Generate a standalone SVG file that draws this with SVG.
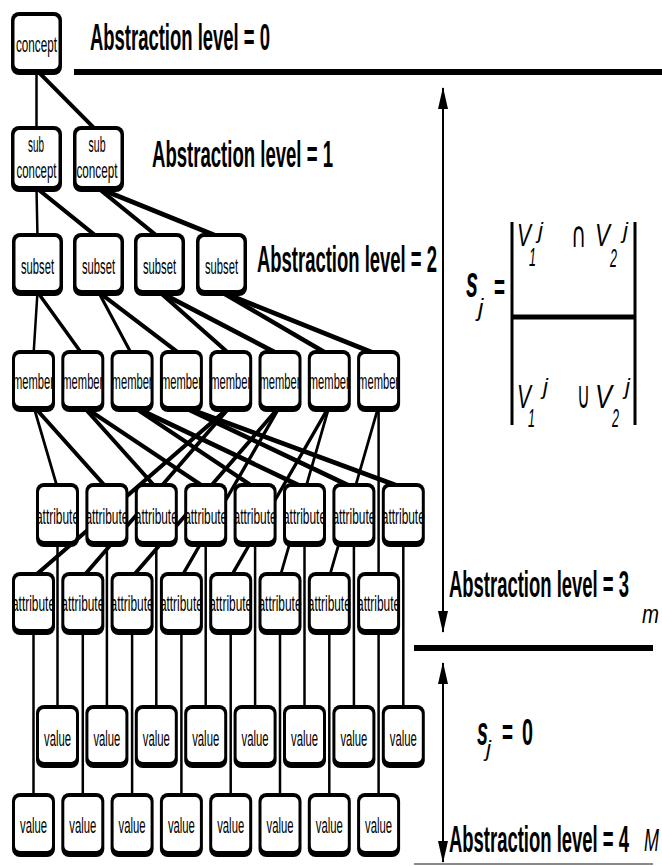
<svg xmlns="http://www.w3.org/2000/svg" width="662" height="866" viewBox="0 0 662 866">
<defs>
<style>
.bo{fill:#000}
.bi{fill:#fff}
.nt{font-family:"Liberation Sans",Arial,sans-serif;font-size:22px;text-anchor:middle;fill:#000}
.lv{font-family:"Liberation Sans",Arial,sans-serif;font-size:37px;font-weight:bold;fill:#000}
.it{font-family:"Liberation Sans",Arial,sans-serif;font-style:italic;fill:#000}
.mt{font-family:"Liberation Sans","DejaVu Sans",sans-serif;fill:#000}
.op{font-family:"DejaVu Sans",sans-serif;fill:#000}
.cn line{stroke:#000;stroke-width:5;stroke-linecap:round}
.rule{stroke:#000;stroke-width:6}
.arr{stroke:#000;stroke-width:2;fill:none}
</style>
<marker id="ah" viewBox="0 0 22 10" refX="21" refY="5" markerWidth="22" markerHeight="10" markerUnits="userSpaceOnUse" orient="auto-start-reverse">
<path d="M0,0 L22,5 L0,10 z" fill="#000"/>
</marker>
</defs>
<rect width="662" height="866" fill="#fff"/>

<!-- connectors (drawn in a horizontally squeezed frame: x doubled) -->
<g id="connectors" class="cn" transform="scale(0.5 1)">
<line x1="73" y1="70" x2="73" y2="132"/>
<line x1="73" y1="70" x2="196" y2="132"/>
<line x1="73" y1="188" x2="75" y2="238"/>
<line x1="73" y1="188" x2="197" y2="238"/>
<line x1="196" y1="188" x2="319" y2="238"/>
<line x1="196" y1="188" x2="443" y2="238"/>
<line x1="75" y1="292" x2="67" y2="355"/>
<line x1="75" y1="292" x2="165.6" y2="355"/>
<line x1="197" y1="292" x2="264.2" y2="355"/>
<line x1="197" y1="292" x2="362.8" y2="355"/>
<line x1="319" y1="292" x2="461.4" y2="355"/>
<line x1="319" y1="292" x2="560" y2="355"/>
<line x1="443" y1="292" x2="658.6" y2="355"/>
<line x1="443" y1="292" x2="757.2" y2="355"/>
<!-- member -> attribute row 1 -->
<line x1="67" y1="406" x2="115" y2="488"/>
<line x1="67" y1="406" x2="213.8" y2="488"/>
<line x1="165.6" y1="406" x2="312.6" y2="488"/>
<line x1="165.6" y1="406" x2="411.4" y2="488"/>
<line x1="264.2" y1="406" x2="510.2" y2="488"/>
<line x1="264.2" y1="406" x2="609" y2="488"/>
<line x1="362.8" y1="406" x2="707.8" y2="488"/>
<line x1="362.8" y1="406" x2="806.6" y2="488"/>
<!-- member -> attribute row 2 -->
<line x1="461.4" y1="406" x2="67" y2="577"/>
<line x1="461.4" y1="406" x2="165.6" y2="577"/>
<line x1="560" y1="406" x2="264.2" y2="577"/>
<line x1="560" y1="406" x2="362.8" y2="577"/>
<line x1="658.6" y1="406" x2="461.4" y2="577"/>
<line x1="658.6" y1="406" x2="560" y2="577"/>
<line x1="757.2" y1="406" x2="658.6" y2="577"/>
<line x1="757.2" y1="406" x2="757.2" y2="577"/>
<!-- attribute row 1 -> value row 1 -->
<line x1="115" y1="542" x2="115" y2="710"/>
<line x1="213.8" y1="542" x2="213.8" y2="710"/>
<line x1="312.6" y1="542" x2="312.6" y2="710"/>
<line x1="411.4" y1="542" x2="411.4" y2="710"/>
<line x1="510.2" y1="542" x2="510.2" y2="710"/>
<line x1="609" y1="542" x2="609" y2="710"/>
<line x1="707.8" y1="542" x2="707.8" y2="710"/>
<line x1="806.6" y1="542" x2="806.6" y2="710"/>
<!-- attribute row 2 -> value row 2 -->
<line x1="67" y1="630" x2="67" y2="798"/>
<line x1="165.6" y1="630" x2="165.6" y2="798"/>
<line x1="264.2" y1="630" x2="264.2" y2="798"/>
<line x1="362.8" y1="630" x2="362.8" y2="798"/>
<line x1="461.4" y1="630" x2="461.4" y2="798"/>
<line x1="560" y1="630" x2="560" y2="798"/>
<line x1="658.6" y1="630" x2="658.6" y2="798"/>
<line x1="757.2" y1="630" x2="757.2" y2="798"/>
</g>

<!-- nodes -->
<g id="concept"><rect class="bo" x="11" y="12" width="51" height="63" rx="8"/><rect class="bi" x="14.5" y="16" width="44" height="53" rx="5"/><text class="nt" x="36.5" y="52" textLength="41" lengthAdjust="spacingAndGlyphs">concept</text></g>

<g id="subconcept1"><rect class="bo" x="11" y="126" width="51" height="66" rx="8"/><rect class="bi" x="14.5" y="130" width="44" height="56" rx="5"/><text class="nt" x="36" y="152" textLength="16" lengthAdjust="spacingAndGlyphs">sub</text><text class="nt" x="36.5" y="178" textLength="40" lengthAdjust="spacingAndGlyphs">concept</text></g>
<g id="subconcept2"><rect class="bo" x="73" y="126" width="51" height="66" rx="8"/><rect class="bi" x="76.5" y="130" width="44" height="56" rx="5"/><text class="nt" x="97" y="152" textLength="17" lengthAdjust="spacingAndGlyphs">sub</text><text class="nt" x="97" y="178" textLength="41" lengthAdjust="spacingAndGlyphs">concept</text></g>

<g id="subset1"><rect class="bo" x="12" y="233" width="51" height="63" rx="8"/><rect class="bi" x="15.5" y="237" width="44" height="53" rx="5"/><text class="nt" x="37.5" y="274" textLength="33" lengthAdjust="spacingAndGlyphs">subset</text></g>
<g id="subset2"><rect class="bo" x="73" y="233" width="51" height="63" rx="8"/><rect class="bi" x="76.5" y="237" width="44" height="53" rx="5"/><text class="nt" x="98.5" y="274" textLength="33" lengthAdjust="spacingAndGlyphs">subset</text></g>
<g id="subset3"><rect class="bo" x="134" y="233" width="51" height="63" rx="8"/><rect class="bi" x="137.5" y="237" width="44" height="53" rx="5"/><text class="nt" x="159.5" y="274" textLength="33" lengthAdjust="spacingAndGlyphs">subset</text></g>
<g id="subset4"><rect class="bo" x="196" y="233" width="51" height="63" rx="8"/><rect class="bi" x="199.5" y="237" width="44" height="53" rx="5"/><text class="nt" x="221.5" y="274" textLength="33" lengthAdjust="spacingAndGlyphs">subset</text></g>

<g id="member1"><rect class="bo" x="12" y="350" width="43" height="62" rx="8"/><rect class="bi" x="15" y="354" width="37" height="52" rx="5"/><text class="nt" x="33.5" y="389" textLength="41" lengthAdjust="spacingAndGlyphs">member</text></g>
<g id="member2"><rect class="bo" x="61.3" y="350" width="43" height="62" rx="8"/><rect class="bi" x="64.3" y="354" width="37" height="52" rx="5"/><text class="nt" x="82.8" y="389" textLength="41" lengthAdjust="spacingAndGlyphs">member</text></g>
<g id="member3"><rect class="bo" x="110.6" y="350" width="43" height="62" rx="8"/><rect class="bi" x="113.6" y="354" width="37" height="52" rx="5"/><text class="nt" x="132.1" y="389" textLength="41" lengthAdjust="spacingAndGlyphs">member</text></g>
<g id="member4"><rect class="bo" x="159.9" y="350" width="43" height="62" rx="8"/><rect class="bi" x="162.9" y="354" width="37" height="52" rx="5"/><text class="nt" x="181.4" y="389" textLength="41" lengthAdjust="spacingAndGlyphs">member</text></g>
<g id="member5"><rect class="bo" x="209.2" y="350" width="43" height="62" rx="8"/><rect class="bi" x="212.2" y="354" width="37" height="52" rx="5"/><text class="nt" x="230.7" y="389" textLength="41" lengthAdjust="spacingAndGlyphs">member</text></g>
<g id="member6"><rect class="bo" x="258.5" y="350" width="43" height="62" rx="8"/><rect class="bi" x="261.5" y="354" width="37" height="52" rx="5"/><text class="nt" x="280" y="389" textLength="41" lengthAdjust="spacingAndGlyphs">member</text></g>
<g id="member7"><rect class="bo" x="307.8" y="350" width="43" height="62" rx="8"/><rect class="bi" x="310.8" y="354" width="37" height="52" rx="5"/><text class="nt" x="329.3" y="389" textLength="41" lengthAdjust="spacingAndGlyphs">member</text></g>
<g id="member8"><rect class="bo" x="357.1" y="350" width="43" height="62" rx="8"/><rect class="bi" x="360.1" y="354" width="37" height="52" rx="5"/><text class="nt" x="378.6" y="389" textLength="41" lengthAdjust="spacingAndGlyphs">member</text></g>

<g id="attr1-1"><rect class="bo" x="36" y="483" width="43" height="64" rx="8"/><rect class="bi" x="39" y="487" width="37" height="54" rx="5"/><text class="nt" x="57.5" y="524" textLength="43" lengthAdjust="spacingAndGlyphs">attribute</text></g>
<g id="attr1-2"><rect class="bo" x="85.4" y="483" width="43" height="64" rx="8"/><rect class="bi" x="88.4" y="487" width="37" height="54" rx="5"/><text class="nt" x="106.9" y="524" textLength="43" lengthAdjust="spacingAndGlyphs">attribute</text></g>
<g id="attr1-3"><rect class="bo" x="134.8" y="483" width="43" height="64" rx="8"/><rect class="bi" x="137.8" y="487" width="37" height="54" rx="5"/><text class="nt" x="156.3" y="524" textLength="43" lengthAdjust="spacingAndGlyphs">attribute</text></g>
<g id="attr1-4"><rect class="bo" x="184.2" y="483" width="43" height="64" rx="8"/><rect class="bi" x="187.2" y="487" width="37" height="54" rx="5"/><text class="nt" x="205.7" y="524" textLength="43" lengthAdjust="spacingAndGlyphs">attribute</text></g>
<g id="attr1-5"><rect class="bo" x="233.6" y="483" width="43" height="64" rx="8"/><rect class="bi" x="236.6" y="487" width="37" height="54" rx="5"/><text class="nt" x="255.1" y="524" textLength="43" lengthAdjust="spacingAndGlyphs">attribute</text></g>
<g id="attr1-6"><rect class="bo" x="283" y="483" width="43" height="64" rx="8"/><rect class="bi" x="286" y="487" width="37" height="54" rx="5"/><text class="nt" x="304.5" y="524" textLength="43" lengthAdjust="spacingAndGlyphs">attribute</text></g>
<g id="attr1-7"><rect class="bo" x="332.4" y="483" width="43" height="64" rx="8"/><rect class="bi" x="335.4" y="487" width="37" height="54" rx="5"/><text class="nt" x="353.9" y="524" textLength="43" lengthAdjust="spacingAndGlyphs">attribute</text></g>
<g id="attr1-8"><rect class="bo" x="381.8" y="483" width="43" height="64" rx="8"/><rect class="bi" x="384.8" y="487" width="37" height="54" rx="5"/><text class="nt" x="403.3" y="524" textLength="43" lengthAdjust="spacingAndGlyphs">attribute</text></g>

<g id="attr2-1"><rect class="bo" x="12" y="572" width="43" height="63" rx="8"/><rect class="bi" x="15" y="576" width="37" height="53" rx="5"/><text class="nt" x="33.5" y="611" textLength="43" lengthAdjust="spacingAndGlyphs">attribute</text></g>
<g id="attr2-2"><rect class="bo" x="61.3" y="572" width="43" height="63" rx="8"/><rect class="bi" x="64.3" y="576" width="37" height="53" rx="5"/><text class="nt" x="82.8" y="611" textLength="43" lengthAdjust="spacingAndGlyphs">attribute</text></g>
<g id="attr2-3"><rect class="bo" x="110.6" y="572" width="43" height="63" rx="8"/><rect class="bi" x="113.6" y="576" width="37" height="53" rx="5"/><text class="nt" x="132.1" y="611" textLength="43" lengthAdjust="spacingAndGlyphs">attribute</text></g>
<g id="attr2-4"><rect class="bo" x="159.9" y="572" width="43" height="63" rx="8"/><rect class="bi" x="162.9" y="576" width="37" height="53" rx="5"/><text class="nt" x="181.4" y="611" textLength="43" lengthAdjust="spacingAndGlyphs">attribute</text></g>
<g id="attr2-5"><rect class="bo" x="209.2" y="572" width="43" height="63" rx="8"/><rect class="bi" x="212.2" y="576" width="37" height="53" rx="5"/><text class="nt" x="230.7" y="611" textLength="43" lengthAdjust="spacingAndGlyphs">attribute</text></g>
<g id="attr2-6"><rect class="bo" x="258.5" y="572" width="43" height="63" rx="8"/><rect class="bi" x="261.5" y="576" width="37" height="53" rx="5"/><text class="nt" x="280" y="611" textLength="43" lengthAdjust="spacingAndGlyphs">attribute</text></g>
<g id="attr2-7"><rect class="bo" x="307.8" y="572" width="43" height="63" rx="8"/><rect class="bi" x="310.8" y="576" width="37" height="53" rx="5"/><text class="nt" x="329.3" y="611" textLength="43" lengthAdjust="spacingAndGlyphs">attribute</text></g>
<g id="attr2-8"><rect class="bo" x="357.1" y="572" width="43" height="63" rx="8"/><rect class="bi" x="360.1" y="576" width="37" height="53" rx="5"/><text class="nt" x="378.6" y="611" textLength="43" lengthAdjust="spacingAndGlyphs">attribute</text></g>

<g id="value1-1"><rect class="bo" x="36" y="705" width="43" height="63" rx="8"/><rect class="bi" x="39" y="709" width="37" height="53" rx="5"/><text class="nt" x="57.5" y="746" textLength="27" lengthAdjust="spacingAndGlyphs">value</text></g>
<g id="value1-2"><rect class="bo" x="85.4" y="705" width="43" height="63" rx="8"/><rect class="bi" x="88.4" y="709" width="37" height="53" rx="5"/><text class="nt" x="106.9" y="746" textLength="27" lengthAdjust="spacingAndGlyphs">value</text></g>
<g id="value1-3"><rect class="bo" x="134.8" y="705" width="43" height="63" rx="8"/><rect class="bi" x="137.8" y="709" width="37" height="53" rx="5"/><text class="nt" x="156.3" y="746" textLength="27" lengthAdjust="spacingAndGlyphs">value</text></g>
<g id="value1-4"><rect class="bo" x="184.2" y="705" width="43" height="63" rx="8"/><rect class="bi" x="187.2" y="709" width="37" height="53" rx="5"/><text class="nt" x="205.7" y="746" textLength="27" lengthAdjust="spacingAndGlyphs">value</text></g>
<g id="value1-5"><rect class="bo" x="233.6" y="705" width="43" height="63" rx="8"/><rect class="bi" x="236.6" y="709" width="37" height="53" rx="5"/><text class="nt" x="255.1" y="746" textLength="27" lengthAdjust="spacingAndGlyphs">value</text></g>
<g id="value1-6"><rect class="bo" x="283" y="705" width="43" height="63" rx="8"/><rect class="bi" x="286" y="709" width="37" height="53" rx="5"/><text class="nt" x="304.5" y="746" textLength="27" lengthAdjust="spacingAndGlyphs">value</text></g>
<g id="value1-7"><rect class="bo" x="332.4" y="705" width="43" height="63" rx="8"/><rect class="bi" x="335.4" y="709" width="37" height="53" rx="5"/><text class="nt" x="353.9" y="746" textLength="27" lengthAdjust="spacingAndGlyphs">value</text></g>
<g id="value1-8"><rect class="bo" x="381.8" y="705" width="43" height="63" rx="8"/><rect class="bi" x="384.8" y="709" width="37" height="53" rx="5"/><text class="nt" x="403.3" y="746" textLength="27" lengthAdjust="spacingAndGlyphs">value</text></g>

<g id="value2-1"><rect class="bo" x="12" y="793" width="43" height="64" rx="8"/><rect class="bi" x="15" y="797" width="37" height="54" rx="5"/><text class="nt" x="33.5" y="833" textLength="27" lengthAdjust="spacingAndGlyphs">value</text></g>
<g id="value2-2"><rect class="bo" x="61.3" y="793" width="43" height="64" rx="8"/><rect class="bi" x="64.3" y="797" width="37" height="54" rx="5"/><text class="nt" x="82.8" y="833" textLength="27" lengthAdjust="spacingAndGlyphs">value</text></g>
<g id="value2-3"><rect class="bo" x="110.6" y="793" width="43" height="64" rx="8"/><rect class="bi" x="113.6" y="797" width="37" height="54" rx="5"/><text class="nt" x="132.1" y="833" textLength="27" lengthAdjust="spacingAndGlyphs">value</text></g>
<g id="value2-4"><rect class="bo" x="159.9" y="793" width="43" height="64" rx="8"/><rect class="bi" x="162.9" y="797" width="37" height="54" rx="5"/><text class="nt" x="181.4" y="833" textLength="27" lengthAdjust="spacingAndGlyphs">value</text></g>
<g id="value2-5"><rect class="bo" x="209.2" y="793" width="43" height="64" rx="8"/><rect class="bi" x="212.2" y="797" width="37" height="54" rx="5"/><text class="nt" x="230.7" y="833" textLength="27" lengthAdjust="spacingAndGlyphs">value</text></g>
<g id="value2-6"><rect class="bo" x="258.5" y="793" width="43" height="64" rx="8"/><rect class="bi" x="261.5" y="797" width="37" height="54" rx="5"/><text class="nt" x="280" y="833" textLength="27" lengthAdjust="spacingAndGlyphs">value</text></g>
<g id="value2-7"><rect class="bo" x="307.8" y="793" width="43" height="64" rx="8"/><rect class="bi" x="310.8" y="797" width="37" height="54" rx="5"/><text class="nt" x="329.3" y="833" textLength="27" lengthAdjust="spacingAndGlyphs">value</text></g>
<g id="value2-8"><rect class="bo" x="357.1" y="793" width="43" height="64" rx="8"/><rect class="bi" x="360.1" y="797" width="37" height="54" rx="5"/><text class="nt" x="378.6" y="833" textLength="27" lengthAdjust="spacingAndGlyphs">value</text></g>

<!-- level labels -->
<g id="levels">
<text class="lv" x="90" y="50" textLength="180" lengthAdjust="spacingAndGlyphs">Abstraction level = 0</text>
<text class="lv" x="152" y="167" textLength="181" lengthAdjust="spacingAndGlyphs">Abstraction level = 1</text>
<text class="lv" x="257" y="272" textLength="180" lengthAdjust="spacingAndGlyphs">Abstraction level = 2</text>
<text class="lv" x="449" y="597" textLength="180" lengthAdjust="spacingAndGlyphs">Abstraction level = 3</text>
<text class="lv" x="449" y="852" textLength="180" lengthAdjust="spacingAndGlyphs">Abstraction level = 4</text>
<text class="it" x="642" y="623" font-size="26" textLength="17" lengthAdjust="spacingAndGlyphs">m</text>
<text class="it" x="644" y="851" font-size="32" textLength="15" lengthAdjust="spacingAndGlyphs">M</text>
</g>

<!-- rules and arrows -->
<g id="rules">
<line class="rule" x1="74" y1="72" x2="662" y2="72"/>
<line class="rule" x1="414" y1="648" x2="653" y2="648"/>
<line x1="414" y1="864" x2="653" y2="864" stroke="#8a8a8a" stroke-width="2"/>
<line class="arr" x1="443" y1="88" x2="443" y2="632" marker-start="url(#ah)" marker-end="url(#ah)"/>
<line class="arr" x1="443" y1="663" x2="443" y2="862" marker-start="url(#ah)" marker-end="url(#ah)"/>
</g>

<!-- formula -->
<g id="formula">
<text class="it" x="466" y="297" font-size="44" font-weight="bold" textLength="12" lengthAdjust="spacingAndGlyphs">s</text>
<text class="it" x="478" y="316" font-size="24">j</text>
<text class="mt" x="494" y="300" font-size="37" font-weight="bold" textLength="11" lengthAdjust="spacingAndGlyphs">=</text>
<line x1="512" y1="222" x2="512" y2="425" stroke="#000" stroke-width="3"/>
<line x1="635" y1="222" x2="635" y2="425" stroke="#000" stroke-width="3"/>
<line x1="512" y1="317" x2="635" y2="317" stroke="#000" stroke-width="5"/>
<text class="it" x="517" y="246" font-size="31" textLength="14" lengthAdjust="spacingAndGlyphs">V</text>
<text class="it" x="529" y="266" font-size="26" textLength="7" lengthAdjust="spacingAndGlyphs">1</text>
<text class="it" x="538" y="238" font-size="22">j</text>
<text class="op" x="571" y="247" font-size="36" textLength="15" lengthAdjust="spacingAndGlyphs">∩</text>
<text class="it" x="595" y="246" font-size="31" textLength="15" lengthAdjust="spacingAndGlyphs">V</text>
<text class="it" x="610" y="267" font-size="26" textLength="7" lengthAdjust="spacingAndGlyphs">2</text>
<text class="it" x="623" y="238" font-size="22">j</text>
<text class="it" x="517" y="408" font-size="34" textLength="14" lengthAdjust="spacingAndGlyphs">V</text>
<text class="it" x="528" y="427" font-size="26" textLength="7" lengthAdjust="spacingAndGlyphs">1</text>
<text class="it" x="543" y="394" font-size="22">j</text>
<text class="op" x="577" y="408" font-size="38" textLength="13" lengthAdjust="spacingAndGlyphs">∪</text>
<text class="it" x="595" y="408" font-size="34" textLength="17" lengthAdjust="spacingAndGlyphs">V</text>
<text class="it" x="612" y="427" font-size="26" textLength="7" lengthAdjust="spacingAndGlyphs">2</text>
<text class="it" x="625" y="394" font-size="22">j</text>
</g>

<g id="formula2">
<text class="it" x="477" y="745" font-size="40" font-weight="bold" textLength="11" lengthAdjust="spacingAndGlyphs">s</text>
<text class="it" x="486" y="756" font-size="22">j</text>
<text class="mt" x="502" y="745" font-size="37" font-weight="bold" textLength="11" lengthAdjust="spacingAndGlyphs">=</text>
<text class="mt" x="522" y="745" font-size="37" font-weight="bold" textLength="11" lengthAdjust="spacingAndGlyphs">0</text>
</g>
</svg>
